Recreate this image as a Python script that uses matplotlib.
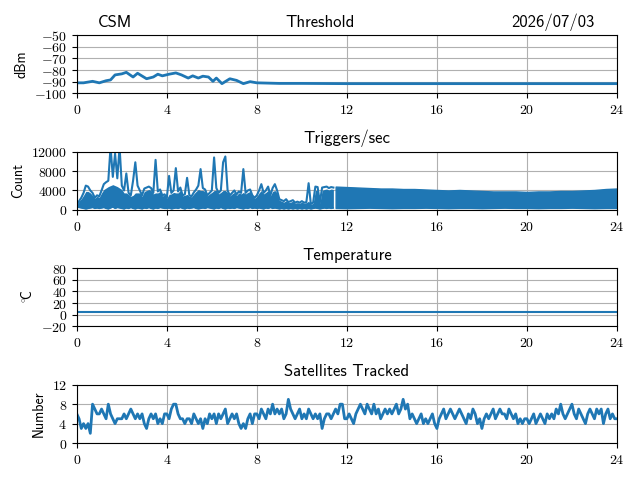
import numpy as np
import matplotlib
matplotlib.use("Agg")
import matplotlib.pyplot as plt
from matplotlib.ticker import FuncFormatter

plt.rcParams['font.family'] = ['cmss10', 'DejaVu Sans']
plt.rcParams['mathtext.fontset'] = 'cm'
plt.rcParams['axes.formatter.use_mathtext'] = True

# threshold (dBm)
thr_hours = [0.0, 0.3, 0.7, 1.0, 1.3, 1.5, 1.7, 2.0, 2.2, 2.5, 2.7, 3.1, 3.4, 3.6,
             3.8, 4.1, 4.4, 4.65, 4.95, 5.15, 5.4, 5.6, 5.85, 6.05, 6.2, 6.45,
             6.8, 7.1, 7.4, 7.7, 8.0, 9.0, 10.0, 12.0, 14.0, 16.0, 18.0, 20.0,
             22.0, 24.0]
thr_vals = [-91, -91, -89.7, -91, -89.2, -88.5, -84.2, -83.3, -82, -86, -82.8,
            -87.5, -86, -83.6, -85, -83.6, -82.5, -84.2, -86.9, -85, -86.9,
            -85.3, -86, -89.7, -86.9, -91.7, -87.5, -88.9, -91.7, -90, -91,
            -91.5, -91.5, -91.7, -91.7, -91.7, -91.7, -91.7, -91.7, -91.7]

# triggers/sec, first part every 0.1 h (0.0 .. 11.4)
trig_a_hi = [1000, 1800, 2500, 3500, 5000, 4800, 4000, 3500, 2500, 3000,
             2800, 4000, 5300, 5700, 6000, 13000, 6800, 11600, 6500, 13000,
             5000, 4000, 7500, 3500, 3000, 6000, 9800, 5000, 4000, 3000,
             4400, 4600, 4800, 4500, 3500, 10300, 3800, 4200, 3000, 3200,
             2500, 7000, 3500, 4000, 8600, 3800, 4600, 3000, 3200, 6600,
             3000, 2800, 3600, 4200, 5000, 8400, 4500, 4200, 3000, 3500,
             4000, 10800, 4500, 3500, 4000, 9800, 11000, 4000, 3000, 3500,
             4000, 3200, 3800, 3500, 8400, 3500, 4000, 4200, 3000, 2500,
             3000, 4000, 5300, 3500, 4000, 4800, 3000, 4500, 5300, 4000,
             2200, 2000, 1800, 2200, 1600, 1800, 2000, 1500, 1700, 1500,
             1800, 1500, 1600, 5500, 1200, 1500, 4800, 4700, 1500, 4600,
             4700, 4800, 4500, 4700, 4600]
trig_a_mid = [1000, 1800, 2300, 3000, 3800, 3800, 3500, 3000, 2400, 2800,
              2600, 3500, 4200, 4500, 4800, 5000, 5200, 5000, 4800, 4500,
              4200, 3500, 3500, 3200, 2800, 3000, 3500, 3500, 3500, 2800,
              3800, 4000, 4200, 4000, 3300, 3500, 3500, 3800, 2900, 3000,
              2400, 3200, 3300, 3600, 3500, 3500, 4000, 2900, 3000, 3200,
              2800, 2700, 3300, 3800, 4200, 4000, 4000, 3800, 2900, 3300,
              3600, 4000, 4000, 3300, 3600, 4000, 4000, 3600, 2900, 3300,
              3600, 3000, 3500, 3300, 3600, 3300, 3600, 3800, 2900, 2400,
              2800, 3500, 4000, 3300, 3600, 4000, 2900, 3800, 4000, 3500,
              2000, 1800, 1600, 1900, 1500, 1600, 1800, 1400, 1500, 1400,
              1600, 1400, 1500, 1800, 1100, 1400, 4000, 4000, 1400, 4000,
              4200, 4300, 4100, 4300, 4200]
trig_a_lo = [600, 500, 400, 300, 200, 300, 400, 500, 300, 400,
             300, 400, 500, 300, 200, 400, 600, 300, 500, 400,
             300, 200, 400, 300, 500, 300, 200, 400, 300, 200,
             400, 300, 500, 300, 200, 400, 300, 500, 400, 300,
             300, 400, 200, 300, 400, 300, 500, 300, 200, 400,
             300, 400, 500, 300, 200, 300, 400, 300, 500, 400,
             300, 200, 400, 300, 500, 300, 200, 400, 300, 400,
             300, 500, 400, 300, 200, 400, 300, 500, 300, 400,
             300, 400, 300, 200, 400, 300, 500, 300, 400, 300,
             200, 300, 200, 300, 200, 300, 200, 300, 200, 300,
             200, 300, 200, 300, 200, 300, 400, 300, 200, 300,
             400, 300, 400, 300, 400]
# second part every 0.5 h (11.5 .. 24.0), dense band
trig_b_hi = [4800, 4700, 4600, 4500, 4400, 4400, 4300, 4300, 4200, 4100,
             4000, 4100, 4000, 3900, 3800, 3800, 3800, 3700, 3800, 3800,
             3900, 3900, 4000, 4100, 4300, 4400]
trig_b_lo = [400, 350, 400, 450, 400, 350, 400, 400, 450, 400,
             350, 400, 400, 350, 400, 450, 400, 400, 350, 400,
             400, 450, 400, 350, 400, 400]

# temperature (C)
temp_hours = [0, 6, 12, 18, 24]
temp_vals = [4, 4, 4, 4, 4]

# satellites tracked, every 0.1 h
sats = [6, 5, 3, 4, 3, 4, 2, 8, 7, 6,
        6, 7, 6, 5, 8, 6, 5, 4, 5, 5,
        5, 6, 5, 6, 7, 6, 5, 6, 5, 6,
        4, 3, 5, 6, 5, 6, 4, 5, 4, 6,
        6, 5, 7, 8, 8, 6, 5, 5, 4, 5,
        5, 4, 6, 5, 4, 5, 3, 5, 4, 6,
        5, 6, 4, 6, 5, 6, 7, 4, 5, 6,
        5, 6, 4, 3, 4, 3, 5, 6, 4, 6,
        6, 5, 7, 6, 5, 7, 6, 8, 6, 7,
        6, 7, 5, 6, 9, 7, 6, 5, 6, 7,
        5, 6, 5, 7, 6, 5, 6, 5, 6, 3,
        5, 6, 6, 5, 6, 7, 6, 8, 8, 5,
        5, 6, 5, 4, 6, 7, 8, 7, 6, 8,
        7, 6, 8, 6, 7, 5, 6, 7, 6, 7,
        6, 7, 8, 6, 7, 9, 7, 8, 5, 6,
        5, 4, 5, 6, 4, 5, 4, 5, 6, 4,
        3, 5, 6, 7, 5, 6, 7, 6, 5, 6,
        7, 6, 5, 4, 6, 5, 7, 6, 4, 5,
        3, 5, 6, 5, 6, 7, 5, 6, 7, 6,
        6, 5, 7, 6, 5, 6, 4, 5, 4, 5,
        5, 4, 5, 6, 4, 5, 6, 5, 4, 6,
        5, 6, 5, 7, 6, 8, 6, 5, 6, 7,
        8, 6, 5, 7, 6, 5, 4, 6, 7, 6,
        5, 7, 6, 7, 4, 6, 7, 5, 6, 5,
        5]

trig_a_hours = np.arange(len(trig_a_hi)) * 0.1
trig_b_hours = 11.5 + np.arange(len(trig_b_hi)) * 0.5
sat_hours = np.arange(len(sats)) * 0.1

blue = '#1f77b4'
fmt = FuncFormatter(lambda v, p: r'$%d$' % v)

fig, axs = plt.subplots(4, 1, figsize=(6.4, 4.8), dpi=100)
fig.subplots_adjust(left=0.12, right=0.964, top=0.927, bottom=0.077, hspace=1.0)

ax = axs[0]
ax.plot(thr_hours, thr_vals, color=blue, linewidth=2)
ax.set_ylim(-100, -50)
ax.set_yticks([-100, -90, -80, -70, -60, -50])
ax.set_ylabel('dBm')
ax.set_title('Threshold', x=0.45)
ax.set_title('CSM', loc='left', x=0.039)
ax.set_title('2026/07/03', loc='right', x=0.959)

ax = axs[1]
ax.fill_between(trig_a_hours, trig_a_lo, trig_a_mid, color=blue, linewidth=0, zorder=2)
ax.plot(trig_a_hours, trig_a_hi, color=blue, linewidth=1.5, zorder=2)
ax.plot(trig_a_hours, trig_a_lo, color=blue, linewidth=1.0, zorder=2)
ax.fill_between(trig_b_hours, trig_b_lo, trig_b_hi, color=blue, linewidth=1.0,
                edgecolor=blue, zorder=2)
ax.set_ylim(0, 12000)
ax.set_yticks([0, 4000, 8000, 12000])
ax.set_ylabel('Count')
ax.set_title('Triggers/sec')

ax = axs[2]
ax.plot(temp_hours, temp_vals, color=blue, linewidth=1.5)
ax.set_ylim(-20, 80)
ax.set_yticks([-20, 0, 20, 40, 60, 80])
ax.set_ylabel(r'$^\circ\!\!$C')
ax.set_title('Temperature')

ax = axs[3]
ax.plot(sat_hours, sats, color=blue, linewidth=2)
ax.set_ylim(0, 12)
ax.set_yticks([0, 4, 8, 12])
ax.set_ylabel('Number')
ax.set_title('Satellites Tracked')

for ax in axs:
    ax.set_xlim(0, 24)
    ax.set_xticks([0, 4, 8, 12, 16, 20, 24])
    ax.xaxis.set_major_formatter(fmt)
    ax.yaxis.set_major_formatter(fmt)
    ax.grid(True)
    ax.tick_params(labelsize=10)

fig.savefig('out.png', dpi=100)
